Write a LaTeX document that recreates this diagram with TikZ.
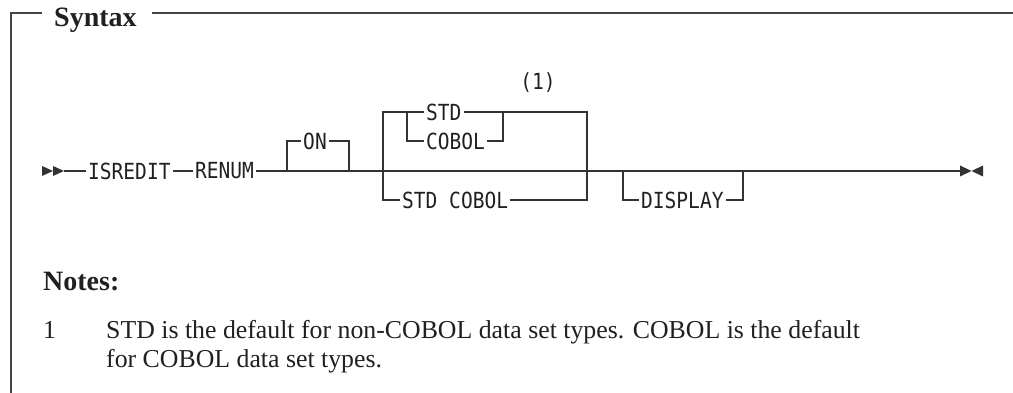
\documentclass[tikz,border=0pt]{standalone}
\usepackage{fontspec}
\setmainfont{Liberation Serif}
\newfontfamily\diagfont[FakeStretch=0.88]{DejaVu Sans Mono}
\definecolor{ink}{HTML}{231F20}
\definecolor{rulec}{HTML}{333333}
\definecolor{framec}{HTML}{444444}
\begin{document}
\begin{tikzpicture}[x=1pt,y=-1pt,
  kw/.style={font=\diagfont\fontsize{22.2}{24}\selectfont, inner xsep=2pt, inner ysep=0pt, text=ink},
  conn/.style={draw=rulec, line width=1.2pt},
  framepath/.style={draw=framec, line width=1.3pt},
  serif/.style={inner sep=0pt, text=ink, anchor=base west},
  headfont/.style={font=\bfseries\fontsize{28}{30}\selectfont},
  notefont/.style={font=\fontsize{25.8}{29}\selectfont},
]
\useasboundingbox (0,0) rectangle (1013,393);

% frame
\draw[framepath] (42,13) -- (11,13) -- (11,393);
\draw[framepath] (152,13) -- (1013,13);
\node[serif, headfont] (syntax) at (54,27) {Syntax};

% keywords
\node[kw, anchor=west] (isredit) at (86,171) {ISREDIT};
\node[kw, anchor=west] (renum) at (193,171) {RENUM};
\node[kw] (on) at (315,141) {ON};
\node[kw, anchor=west] (std) at (424,112) {STD};
\node[kw, anchor=west] (cobol) at (424,141) {COBOL};
\node[kw, anchor=west] (stdcobol) at (400,200) {STD COBOL};
\node[kw, anchor=west] (display) at (639,200) {DISPLAY};
\node[kw] (fn) at (538,83) {(1)};

% junctions
\coordinate (start) at (64,171);
\coordinate (j1) at (287,171);
\coordinate (j2) at (349,171);
\coordinate (j3) at (383,171);
\coordinate (j4) at (587,171);
\coordinate (j5) at (623,171);
\coordinate (j6) at (743,171);
\coordinate (fin) at (960,171);
\coordinate (k1) at (407,112);
\coordinate (k2) at (503,112);

% start / end marks
\fill[rulec] (42,166) -- (53,171) -- (42,176) -- cycle;
\fill[rulec] (53,166) -- (start) -- (53,176) -- cycle;
\fill[rulec] (960,165.5) -- (971.5,171) -- (960,176.5) -- cycle;
\fill[rulec] (983,165.5) -- (971.5,171) -- (983,176.5) -- cycle;

% main line
\draw[conn] (start) -- (isredit.west);
\draw[conn] (isredit.east) -- (renum.west);
\draw[conn] (renum.east) -- (j1) -- (j2) -- (j3) -- (j4) -- (j5) -- (j6) -- (fin);

% ON
\draw[conn] (j1) |- (on.west);
\draw[conn] (on.east) -| (j2);

% STD / COBOL group
\draw[conn] (j3) |- (std.west);
\draw[conn] (std.east) -| (j4);
\draw[conn] (k1) |- (cobol.west);
\draw[conn] (cobol.east) -| (k2);
\draw[conn] (j3) |- (stdcobol.west);
\draw[conn] (stdcobol.east) -| (j4);

% DISPLAY
\draw[conn] (j5) |- (display.west);
\draw[conn] (display.east) -| (j6);

% notes
\node[serif, headfont] (notes) at (43,290) {Notes:};
\node[serif, notefont] (n1) at (43,338) {1};
\node[serif, notefont] (n1a) at (106,338) {STD is the default for non-COBOL data set types. COBOL is the default};
\node[serif, notefont] (n1b) at (106,367) {for COBOL data set types.};
\end{tikzpicture}
\end{document}
